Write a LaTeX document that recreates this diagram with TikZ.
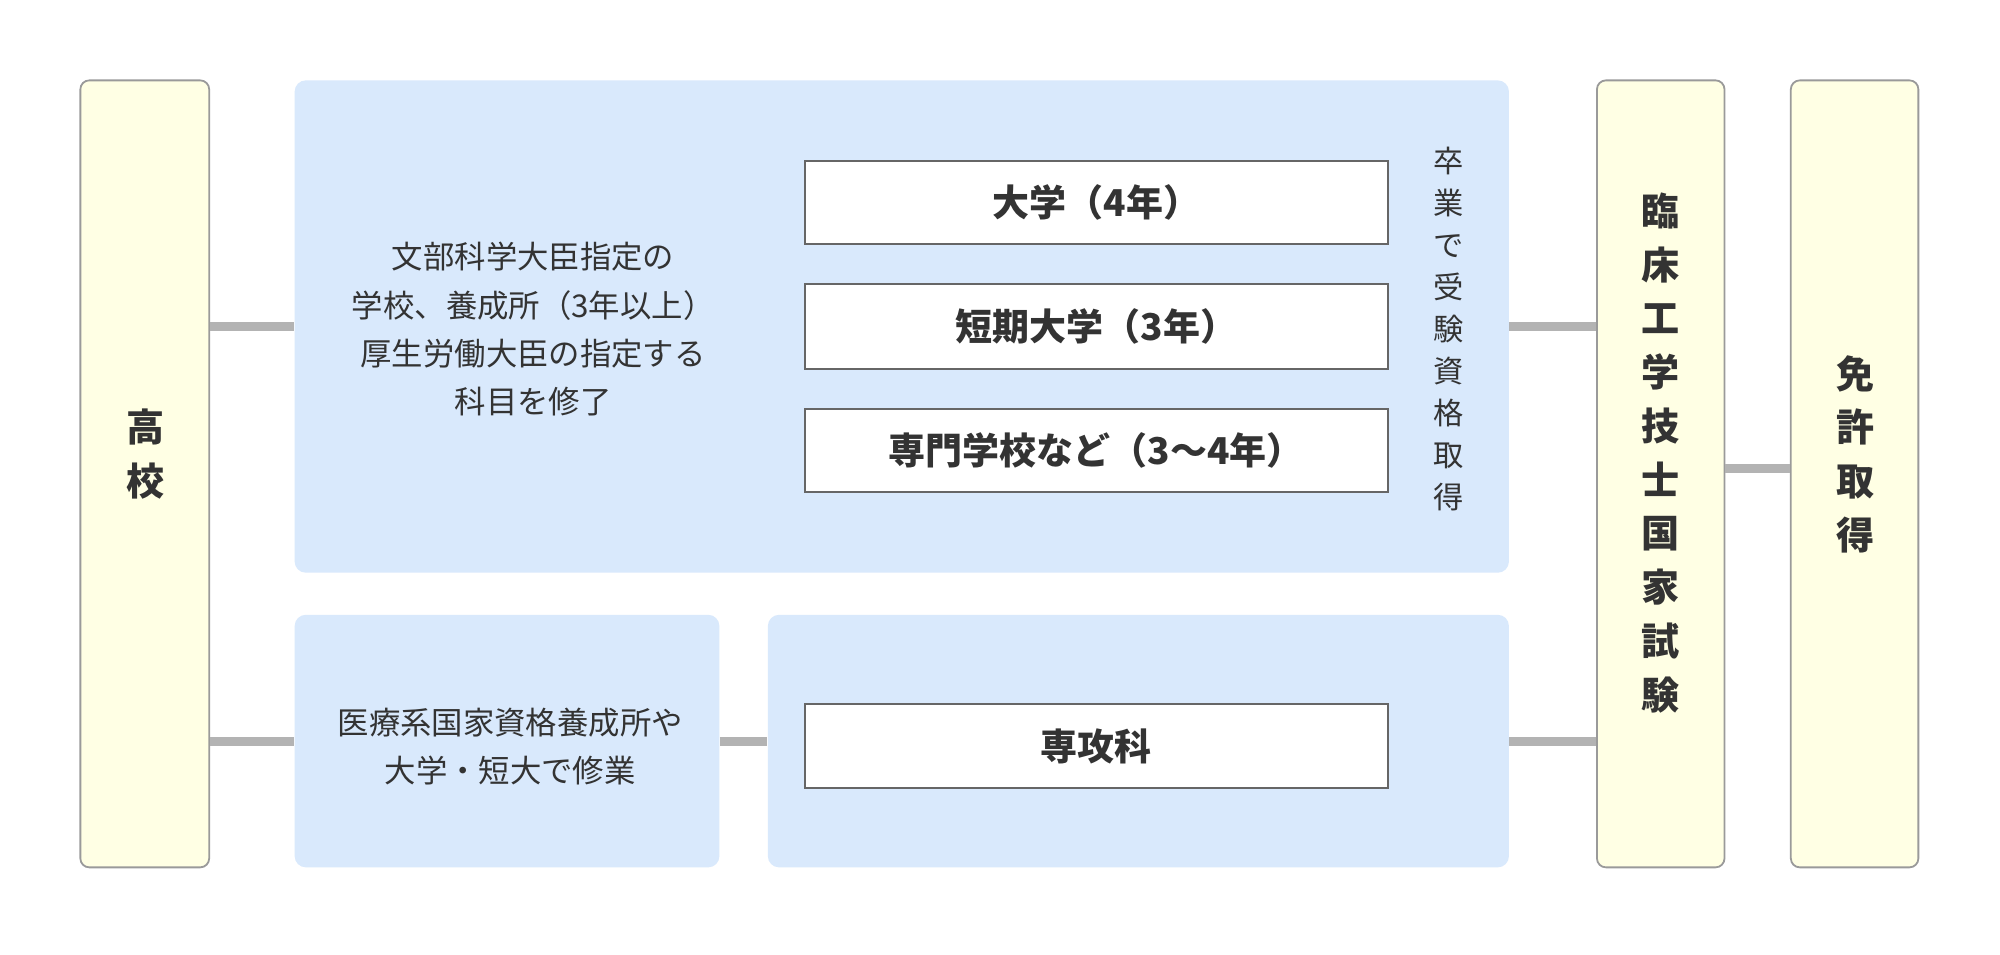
\documentclass[tikz,border=0pt]{standalone}
\usepackage{fontspec}
\setmainfont{Noto Sans CJK JP}
\usetikzlibrary{fit}
\definecolor{bluefill}{HTML}{D9E9FC}
\definecolor{yelfill}{HTML}{FFFFE4}
\definecolor{yelborder}{HTML}{9A9A9A}
\definecolor{wborder}{HTML}{666666}
\definecolor{conngray}{HTML}{B3B3B3}
\definecolor{txt}{HTML}{333333}
\begin{document}
\begin{tikzpicture}[x=0.02cm,y=-0.02cm,
  ybox/.style={draw=yelborder, fill=yelfill, rounded corners=4pt, line width=0.8pt, inner sep=0pt},
  bbox/.style={fill=bluefill, rounded corners=5pt, inner sep=0pt},
  wbox/.style={draw=wborder, fill=white, line width=0.9pt, inner sep=0pt},
  conn/.style={draw=conngray, line width=4pt},
  boldtxt/.style={text=txt, font=\fontsize{17}{24}\selectfont\bfseries, align=center},
  normtxt/.style={text=txt, font=\fontsize{14}{21.5}\selectfont, align=center},
  vtxt/.style={text=txt, font=\fontsize{13.5}{18.7}\selectfont, align=center},
  wtxt/.style={text=txt, font=\fontsize{16.5}{20}\selectfont\bfseries}
]
\useasboundingbox[fill=white] (0,0) rectangle (1568,748);

% boxes
\node[ybox, fit={(63,63) (164,680)}] (koko) {};
\node[bbox, fit={(231,63) (1183,449)}] (top) {};
\node[bbox, fit={(231,482) (564,680)}] (bl) {};
\node[bbox, fit={(602,482) (1183,680)}] (br) {};
\node[ybox, fit={(1252,63) (1352,680)}] (exam) {};
\node[ybox, fit={(1404,63) (1504,680)}] (lic) {};

\node[wbox, fit={(631,126) (1088,191)}] (w1) {};
\node[wbox, fit={(631,223) (1088,289)}] (w2) {};
\node[wbox, fit={(631,321) (1088,386)}] (w3) {};
\node[wbox, fit={(631,552) (1088,618)}] (w4) {};

% texts
\node[boldtxt] (kokot) at (114,356) {高\\校};
\node[boldtxt] (examt) at (1302,355) {臨\\床\\工\\学\\技\\士\\国\\家\\試\\験};
\node[boldtxt] (lict) at (1455,356) {免\\許\\取\\得};
\node[vtxt] (sotsu) at (1136,258) {卒\\業\\で\\受\\験\\資\\格\\取\\得};
\node[normtxt] (topt) at (418,258) {文部科学大臣指定の\\学校、養成所（3年以上）\\厚生労働大臣の指定する\\科目を修了};
\node[normtxt] (blt) at (400,585) {医療系国家資格養成所や\\大学・短大で修業};
\node[wtxt] at (w1) {大学（4年）};
\node[wtxt] at (w2) {短期大学（3年）};
\node[wtxt] at (w3) {専門学校など（3〜4年）};
\node[wtxt] at (w4) {専攻科};

% connectors
\draw[conn] (koko.east |- top.west) -- (top.west);
\draw[conn] (koko.east |- bl.west) -- (bl.west);
\draw[conn] (bl.east) -- (br.west);
\draw[conn] (top.east) -- (exam.west |- top.east);
\draw[conn] (br.east) -- (exam.west |- br.east);
\draw[conn] (exam.east |- 0,367) -- (lic.west |- 0,367);
\end{tikzpicture}
\end{document}
